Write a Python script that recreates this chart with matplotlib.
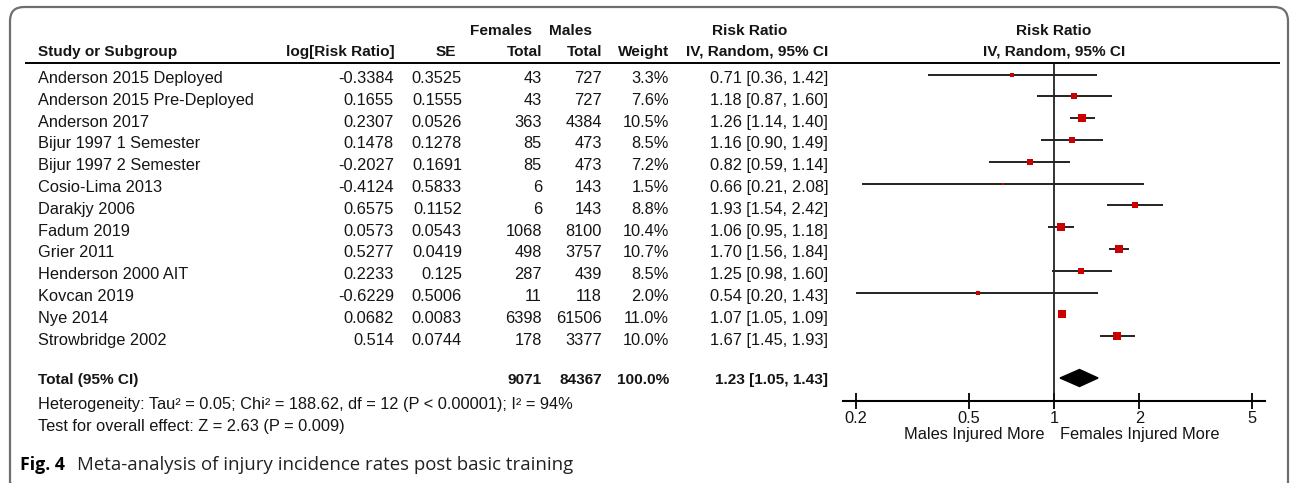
import numpy as np
import matplotlib.pyplot as plt
from matplotlib.patches import FancyBboxPatch, Polygon

# study data
studies = ["Anderson 2015 Deployed", "Anderson 2015 Pre-Deployed", "Anderson 2017",
           "Bijur 1997 1 Semester", "Bijur 1997 2 Semester", "Cosio-Lima 2013",
           "Darakjy 2006", "Fadum 2019", "Grier 2011", "Henderson 2000 AIT",
           "Kovcan 2019", "Nye 2014", "Strowbridge 2002"]
log_rr = ["-0.3384", "0.1655", "0.2307", "0.1478", "-0.2027", "-0.4124", "0.6575",
          "0.0573", "0.5277", "0.2233", "-0.6229", "0.0682", "0.514"]
se = ["0.3525", "0.1555", "0.0526", "0.1278", "0.1691", "0.5833", "0.1152",
      "0.0543", "0.0419", "0.125", "0.5006", "0.0083", "0.0744"]
females_total = [43, 43, 363, 85, 85, 6, 6, 1068, 498, 287, 11, 6398, 178]
males_total = [727, 727, 4384, 473, 473, 143, 143, 8100, 3757, 439, 118, 61506, 3377]
weight = [3.3, 7.6, 10.5, 8.5, 7.2, 1.5, 8.8, 10.4, 10.7, 8.5, 2.0, 11.0, 10.0]
rr = [0.71, 1.18, 1.26, 1.16, 0.82, 0.66, 1.93, 1.06, 1.70, 1.25, 0.54, 1.07, 1.67]
ci_low = [0.36, 0.87, 1.14, 0.90, 0.59, 0.21, 1.54, 0.95, 1.56, 0.98, 0.20, 1.05, 1.45]
ci_high = [1.42, 1.60, 1.40, 1.49, 1.14, 2.08, 2.42, 1.18, 1.84, 1.60, 1.43, 1.09, 1.93]

total_females = 9071
total_males = 84367
total_rr = 1.23
total_low = 1.05
total_high = 1.43

ticks = [0.2, 0.5, 1, 2, 5]
tick_labels = ["0.2", "0.5", "1", "2", "5"]

W, H = 1292, 483
fig = plt.figure(figsize=(W / 100, H / 100), dpi=100)

# background axes in pixel coordinates for the table text
bg = fig.add_axes([0, 0, 1, 1])
bg.set_xlim(0, W)
bg.set_ylim(H, 0)
bg.axis("off")

font = "Liberation Sans"
fs = 11.8
fsb = 11.1
txt = "#151515"

frame = FancyBboxPatch((10, 7), 1278, 490, boxstyle="round,pad=0,rounding_size=14",
                       fill=False, edgecolor="#6e6e6e", linewidth=1.6, clip_on=True)
bg.add_patch(frame)

# header
hdr = dict(family=font, fontsize=fsb, fontweight="bold", color=txt, va="center")
bg.text(38, 52, "Study or Subgroup", ha="left", **hdr)
bg.text(395, 52, "log[Risk Ratio]", ha="right", **hdr)
bg.text(456, 52, "SE", ha="right", **hdr)
bg.text(501, 31, "Females", ha="center", **hdr)
bg.text(542, 52, "Total", ha="right", **hdr)
bg.text(571, 31, "Males", ha="center", **hdr)
bg.text(602, 52, "Total", ha="right", **hdr)
bg.text(669, 52, "Weight", ha="right", **hdr)
bg.text(750, 31, "Risk Ratio", ha="center", **hdr)
bg.text(828, 52, "IV, Random, 95% CI", ha="right", **hdr)
bg.text(1054, 31, "Risk Ratio", ha="center", **hdr)
bg.text(1054, 52, "IV, Random, 95% CI", ha="center", **hdr)
bg.plot([25, 1280], [63, 63], color="black", lw=1.4, solid_capstyle="butt")

# study rows
row = dict(family=font, fontsize=fs, color=txt, va="baseline")
row_y = 74.5 + 21.8 * np.arange(len(studies))
for i, name in enumerate(studies):
    y = row_y[i] + 8.5
    bg.text(38, y, name, ha="left", **row)
    bg.text(394, y, log_rr[i], ha="right", **row)
    bg.text(462, y, se[i], ha="right", **row)
    bg.text(542, y, str(females_total[i]), ha="right", **row)
    bg.text(602, y, str(males_total[i]), ha="right", **row)
    bg.text(669, y, f"{weight[i]:.1f}%", ha="right", **row)
    bg.text(828, y, f"{rr[i]:.2f} [{ci_low[i]:.2f}, {ci_high[i]:.2f}]", ha="right", **row)

# totals
tot = dict(family=font, fontsize=fsb, fontweight="bold", color=txt, va="center")
bg.text(38, 380, "Total (95% CI)", ha="left", **tot)
bg.text(542, 380, str(total_females), ha="right", **tot)
bg.text(602, 380, str(total_males), ha="right", **tot)
bg.text(669, 380, "100.0%", ha="right", **tot)
bg.text(828, 380, f"{total_rr:.2f} [{total_low:.2f}, {total_high:.2f}]", ha="right", **tot)

foot = dict(family=font, fontsize=fs, color=txt, va="center", ha="left")
bg.text(38, 405, "Heterogeneity: Tau\u00b2 = 0.05; Chi\u00b2 = 188.62, df = 12 (P < 0.00001); I\u00b2 = 94%", **foot)
bg.text(38, 427, "Test for overall effect: Z = 2.63 (P = 0.009)", **foot)

bg.text(1045, 434, "Males Injured More", family=font, fontsize=fs, color=txt, ha="right", va="center")
bg.text(1060, 434, "Females Injured More", family=font, fontsize=fs, color=txt, ha="left", va="center")

bg.text(20, 465, "Fig. 4", family="Open Sans", fontsize=12.8, fontweight="bold", color="black", va="center")
bg.text(77, 465, "Meta-analysis of injury incidence rates post basic training",
        family="Open Sans", fontsize=13.4, color="#222222", va="center")

# forest plot panel, x in log scale, y in pixel units
x0, x1, y0, y1 = 843, 1265, 63, 401
ax = fig.add_axes([x0 / W, (H - y1) / H, (x1 - x0) / W, (y1 - y0) / H])
ax.patch.set_alpha(0)
ppd = 283.7
one = 1054
ax.set_xscale("log")
ax.set_xlim(10 ** ((x0 - one) / ppd), 10 ** ((x1 - one) / ppd))
ax.set_ylim(y1, y0)
for s in ["top", "left", "right"]:
    ax.spines[s].set_visible(False)
ax.spines["bottom"].set_linewidth(1.5)
ax.set_yticks([])
ax.set_xticks(ticks)
ax.set_xticklabels(tick_labels, family=font, fontsize=fs, color=txt)
ax.xaxis.set_minor_locator(plt.NullLocator())
ax.tick_params(axis="x", direction="inout", length=12, width=1.3, pad=1)

ax.axvline(1, color="#111111", lw=1.2)
for i in range(len(studies)):
    ax.plot([ci_low[i], ci_high[i]], [row_y[i], row_y[i]], color="#222222", lw=1.4,
            solid_capstyle="butt")
    side = 2.3 * np.sqrt(weight[i]) * 0.72
    ax.plot(rr[i], row_y[i], marker="s", color="#cc0000", markersize=side, markeredgewidth=0)

dy = 378
diamond = Polygon([[total_low, dy], [total_rr, dy - 8.5], [total_high, dy], [total_rr, dy + 8.5]],
                  closed=True, facecolor="black", edgecolor="black")
ax.add_patch(diamond)

fig.savefig("out.png", dpi=100)
